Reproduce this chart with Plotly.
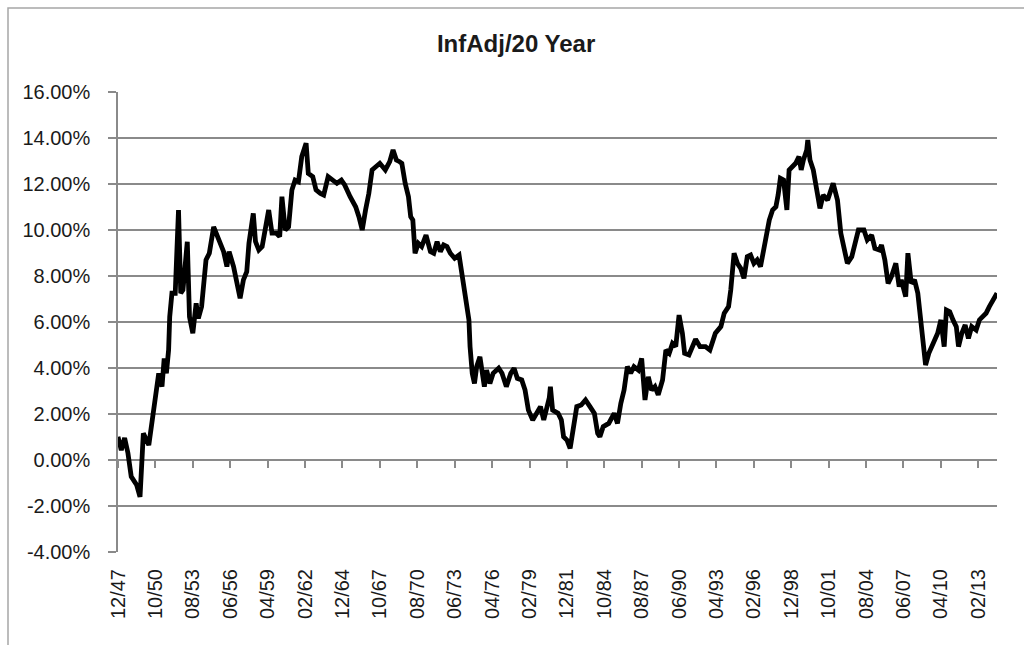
import plotly.graph_objects as go

# ---- data (monthly, percent) ----
dates = [
    "1947-12", "1948-03", "1948-06", "1948-09", "1948-12", "1949-05", "1949-08", "1949-11",
    "1950-04", "1950-07", "1950-10", "1951-01", "1951-04", "1951-06", "1951-08", "1951-10",
    "1951-11", "1952-01", "1952-04", "1952-07", "1952-09", "1952-11", "1953-03", "1953-05",
    "1953-08", "1953-11", "1954-01", "1954-04", "1954-08", "1954-11", "1955-03", "1955-07",
    "1955-12", "1956-03", "1956-05", "1956-09", "1957-03", "1957-06", "1957-09", "1957-11",
    "1958-03", "1958-05", "1958-08", "1958-11", "1959-02", "1959-05", "1959-08", "1959-12",
    "1960-03", "1960-05", "1960-08", "1960-11", "1961-02", "1961-05", "1961-08", "1961-11",
    "1962-03", "1962-05", "1962-09", "1962-12", "1963-04", "1963-07", "1963-11", "1964-04",
    "1964-07", "1964-11", "1965-02", "1965-07", "1965-12", "1966-03", "1966-06", "1966-09",
    "1966-12", "1967-03", "1967-06", "1967-10", "1968-03", "1968-07", "1968-10", "1969-01",
    "1969-04", "1969-06", "1969-09", "1969-12", "1970-02", "1970-04", "1970-06", "1970-09",
    "1970-12", "1971-04", "1971-08", "1971-11", "1972-02", "1972-05", "1972-08", "1972-11",
    "1973-02", "1973-06", "1973-10", "1974-01", "1974-04", "1974-07", "1974-08", "1974-10",
    "1974-12", "1975-02", "1975-05", "1975-07", "1975-09", "1975-11", "1976-02", "1976-05",
    "1976-10", "1977-01", "1977-05", "1977-09", "1977-12", "1978-03", "1978-07", "1978-10",
    "1979-01", "1979-05", "1979-09", "1979-12", "1980-03", "1980-06", "1980-08", "1980-09",
    "1980-11", "1981-04", "1981-07", "1981-09", "1981-12", "1982-03", "1982-06", "1982-09",
    "1983-01", "1983-05", "1983-09", "1984-01", "1984-04", "1984-06", "1984-09", "1985-02",
    "1985-07", "1985-10", "1986-01", "1986-04", "1986-07", "1986-10", "1987-01", "1987-05",
    "1987-08", "1987-11", "1988-02", "1988-05", "1988-08", "1988-11", "1989-03", "1989-06",
    "1989-09", "1989-12", "1990-03", "1990-06", "1990-09", "1990-11", "1991-03", "1991-06",
    "1991-09", "1992-01", "1992-06", "1992-10", "1993-03", "1993-08", "1993-11", "1994-03",
    "1994-05", "1994-08", "1994-11", "1995-02", "1995-05", "1995-08", "1995-11", "1996-02",
    "1996-05", "1996-08", "1996-11", "1997-02", "1997-04", "1997-07", "1997-10", "1997-12",
    "1998-02", "1998-05", "1998-08", "1998-10", "1999-01", "1999-04", "1999-07", "1999-09",
    "1999-11", "2000-02", "2000-03", "2000-05", "2000-08", "2000-11", "2001-02", "2001-05",
    "2001-09", "2002-02", "2002-06", "2002-09", "2002-12", "2003-03", "2003-07", "2003-10",
    "2004-01", "2004-06", "2004-09", "2005-01", "2005-04", "2005-08", "2005-10", "2006-01",
    "2006-04", "2006-07", "2006-11", "2007-02", "2007-04", "2007-08", "2007-10", "2008-01",
    "2008-04", "2008-07", "2008-09", "2008-10", "2009-01", "2009-02", "2009-05", "2009-10",
    "2010-01", "2010-04", "2010-07", "2010-09", "2010-12", "2011-03", "2011-06", "2011-08",
    "2011-11", "2012-02", "2012-05", "2012-08", "2012-12", "2013-03", "2013-06", "2013-09",
    "2013-12", "2014-03", "2014-06", "2014-07",
]

values = [
    1.01, 0.43, 0.96, 0.30, -0.72, -1.09, -1.60, 1.16,
    0.65, 1.74, 2.61, 3.77, 3.19, 4.42, 3.77, 4.78,
    6.23, 7.25, 7.25, 10.87, 7.25, 7.39, 9.49, 6.23,
    5.51, 6.81, 6.16, 6.67, 8.70, 8.99, 10.14, 9.71,
    9.06, 8.41, 9.06, 8.41, 7.03, 7.83, 8.19, 9.42,
    10.72, 9.50, 9.13, 9.28, 10.00, 10.87, 9.86, 9.86,
    9.71, 11.45, 10.00, 10.14, 11.74, 12.17, 12.10, 13.19,
    13.77, 12.46, 12.32, 11.74, 11.59, 11.52, 12.32, 12.17,
    12.03, 12.17, 11.96, 11.45, 11.01, 10.58, 10.00, 10.87,
    11.59, 12.61, 12.75, 12.90, 12.61, 12.97, 13.48, 13.04,
    12.97, 12.90, 12.03, 11.45, 10.58, 10.43, 8.99, 9.42,
    9.28, 9.78, 9.06, 8.99, 9.49, 9.06, 9.35, 9.28,
    8.99, 8.77, 8.91, 7.97, 7.10, 6.09, 4.93, 3.77,
    3.33, 4.06, 4.49, 3.62, 3.19, 3.91, 3.33, 3.77,
    3.99, 3.77, 3.19, 3.77, 3.99, 3.55, 3.48, 3.04,
    2.17, 1.74, 2.03, 2.32, 1.74, 2.32, 2.70, 3.19,
    2.17, 2.03, 1.74, 1.01, 0.87, 0.51, 1.45, 2.32,
    2.39, 2.61, 2.32, 2.03, 1.16, 1.01, 1.45, 1.59,
    2.03, 1.59, 2.46, 3.04, 4.06, 3.77, 4.06, 3.91,
    4.42, 2.61, 3.62, 3.04, 3.19, 2.83, 3.48, 4.78,
    4.64, 5.07, 4.93, 6.30, 5.51, 4.64, 4.57, 4.93,
    5.25, 4.93, 4.93, 4.78, 5.51, 5.80, 6.38, 6.67,
    7.39, 8.99, 8.55, 8.33, 7.90, 8.84, 8.91, 8.55,
    8.70, 8.41, 9.13, 9.86, 10.43, 10.87, 11.01, 11.52,
    12.25, 12.17, 10.87, 12.61, 12.75, 12.90, 13.19, 12.61,
    13.04, 13.48, 13.91, 13.04, 12.61, 11.59, 10.94, 11.52,
    11.30, 12.03, 11.30, 9.86, 9.13, 8.55, 8.84, 9.42,
    10.00, 10.00, 9.57, 9.78, 9.20, 9.13, 9.35, 8.70,
    7.68, 7.97, 8.55, 7.54, 7.83, 7.10, 8.99, 7.68,
    7.83, 7.25, 6.38, 5.51, 4.64, 4.13, 4.64, 5.14,
    5.51, 6.09, 4.93, 6.52, 6.45, 6.09, 5.80, 4.93,
    5.51, 5.87, 5.29, 5.80, 5.65, 6.09, 6.23, 6.38,
    6.67, 6.96, 7.15, 7.25,
]

tick_dates = [
    "1947-12", "1950-10", "1953-08", "1956-06", "1959-04", "1962-02", "1964-12", "1967-10",
    "1970-08", "1973-06", "1976-04", "1979-02", "1981-12", "1984-10", "1987-08", "1990-06",
    "1993-04", "1996-02", "1998-12", "2001-10", "2004-08", "2007-06", "2010-04", "2013-02",
]
x_range = ["1947-12-01", "2014-07-01"]

y_ticks = [-4, -2, 0, 2, 4, 6, 8, 10, 12, 14, 16]
y_labels = [f"{v:.2f}%" for v in y_ticks]

title_text = "InfAdj/20 Year"

GRID = "#8a8a8a"
FONT = "Liberation Sans, Arial, sans-serif"

fig = go.Figure()
fig.add_trace(go.Scatter(
    x=dates, y=values, mode="lines",
    line=dict(color="black", width=4.8),
    showlegend=False, hoverinfo="skip",
))
# invisible trace so the tick-mark axis at the 0% line is drawn
fig.add_trace(go.Scatter(
    x=[tick_dates[0]], y=[0], xaxis="x2", mode="markers",
    marker=dict(size=1, opacity=0), showlegend=False, hoverinfo="skip",
))

fig.update_layout(
    width=1024, height=645,
    margin=dict(l=118, r=27, t=92, b=93),
    paper_bgcolor="white", plot_bgcolor="white",
    font=dict(family=FONT, color="#1a1a1a", size=20),
    hovermode=False,
    title=dict(
        text=title_text, xref="container", x=0.504, xanchor="center",
        yref="container", y=0.932, yanchor="middle",
        font=dict(family=FONT, size=24, color="#1a1a1a", weight="bold"),
    ),
    xaxis=dict(
        type="date", range=x_range,
        tickmode="array", tickvals=tick_dates, tickformat="%m/%y",
        tickangle=-90, ticks="", showgrid=False, showline=False, zeroline=False,
        ticklabelstandoff=12,
        tickfont=dict(family=FONT, size=20, color="#1a1a1a"),
    ),
    xaxis2=dict(
        type="date", range=x_range, overlaying="x", anchor="free", position=0.2,
        tickmode="array", tickvals=tick_dates, ticks="outside", ticklen=7,
        tickwidth=1.5, tickcolor=GRID, showticklabels=False,
        showgrid=False, showline=False, zeroline=False,
    ),
    yaxis=dict(
        range=[-4, 16], tickmode="array", tickvals=y_ticks, ticktext=y_labels,
        showgrid=True, gridcolor=GRID, gridwidth=1.5,
        showline=True, linecolor=GRID, linewidth=1.5,
        ticks="outside", ticklen=8, tickwidth=1.5, tickcolor=GRID,
        zeroline=False, ticklabelstandoff=14,
        tickfont=dict(family=FONT, size=20, color="#1a1a1a"),
    ),
)

# outer chart frame (only left/top edges fall inside the picture)
fig.add_shape(
    type="rect", xref="paper", yref="paper",
    x0=(8 - 118) / 879, x1=(1030 - 118) / 879,
    y0=(552 - 650) / 460, y1=(552 - 8) / 460,
    line=dict(color="#a6a6a6", width=1.5), fillcolor="rgba(0,0,0,0)", layer="below",
)

fig.write_html(
    "out.html",
    config={"displayModeBar": False},
    post_script="document.body.style.margin='0';document.body.style.overflow='hidden';",
)
